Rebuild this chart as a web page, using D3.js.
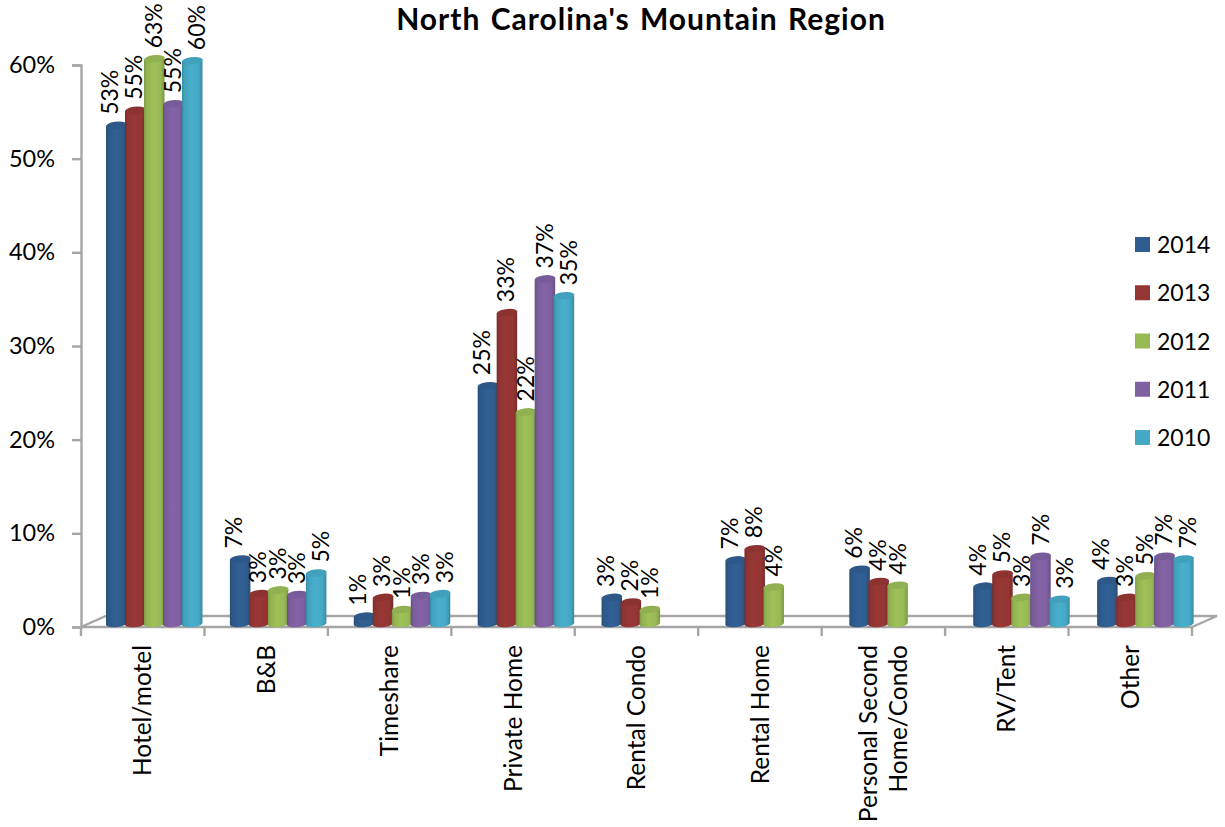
<!DOCTYPE html>
<html><head><meta charset="utf-8">
<script src="https://cdnjs.cloudflare.com/ajax/libs/d3/7.8.5/d3.min.js"></script>
<style>html,body{margin:0;padding:0;background:#fff}svg{display:block}text{font-family:Lato,"Open Sans",sans-serif;fill:#000}</style>
</head><body><div id="chart"></div>
<script>
const title = "North Carolina's Mountain Region";
const categories = ["Hotel/motel","B&B","Timeshare","Private Home","Rental Condo","Rental Home","Personal Second|Home/Condo","RV/Tent","Other"];
const years = ["2014","2013","2012","2011","2010"];
const colors = ["#2f5d8f","#943634","#98ba55","#7f60a1","#45a9c5"];
// drawn heights (%)
const h2014 = [53.4,7.1,1.0,25.6,3.0,7.0,6.0,4.2,4.8];
const h2013 = [55.0,3.4,3.0,33.4,2.5,8.2,4.7,5.5,3.0];
const h2012 = [60.5,3.8,1.7,22.8,1.7,4.1,4.3,3.0,5.3];
const h2011 = [55.7,3.3,3.2,37.0,null,null,null,7.4,7.4];
const h2010 = [60.3,5.6,3.4,35.2,null,null,null,2.8,7.1];
// printed labels
const l2014 = ["53%","7%","1%","25%","3%","7%","6%","4%","4%"];
const l2013 = ["55%","3%","3%","33%","2%","8%","4%","5%","3%"];
const l2012 = ["63%","3%","1%","22%","1%","4%","4%","3%","5%"];
const l2011 = ["55%","3%","3%","37%",null,null,null,"7%","7%"];
const l2010 = ["60%","5%","3%","35%",null,null,null,"3%","7%"];
const heights = [h2014,h2013,h2012,h2011,h2010];
const labels = [l2014,l2013,l2012,l2011,l2010];
const yTicks = [0,10,20,30,40,50,60];

const W=1225,H=827, gray="#a6a6a6";
const svg=d3.select("#chart").append("svg").attr("width",W).attr("height",H);
const y=d3.scaleLinear().domain([0,60]).range([627,65]);
const x0=d3.scaleBand().domain(categories).range([81,1192]);
const xBar=d3.scaleBand().domain(categories).range([106,1221]);
const depthX=25, depthY=11;
const x1=d3.scaleBand().domain(years).range([0,95]);
const defs=svg.append("defs");
colors.forEach((c,i)=>{
  const g=defs.append("linearGradient").attr("id","g"+i);
  const col=d3.color(c);
  [[0,col.darker(.55)],[.12,col.darker(.12)],[.45,col.brighter(.1)],[.8,col],[1,col.darker(.6)]].forEach(([o,k])=>
    g.append("stop").attr("offset",o).attr("stop-color",k.formatHex()));
});
// floor
const floor=svg.append("g").attr("fill","none").attr("stroke",gray).attr("stroke-width",2.4);
const [xl,xr]=x0.range(), yb=y(0);
floor.append("path").attr("d",`M${xl},${yb}L${xl+depthX},${yb-depthY}H${xr+depthX}L${xr},${yb}`);
floor.append("path").attr("d",`M${xl},${yb}H${xr}`);
// x ticks
floor.selectAll("line.t").data([null,...categories]).join("line")
  .attr("x1",(d)=>d===null?xl:x0(d)+x0.bandwidth()).attr("x2",(d)=>d===null?xl:x0(d)+x0.bandwidth())
  .attr("y1",yb).attr("y2",yb+9);
// y axis
const ax=svg.append("g").attr("transform",`translate(${xl},0)`)
  .call(d3.axisLeft(y).tickValues(yTicks).tickFormat(d=>d+"%").tickSize(9).tickPadding(17));
ax.selectAll("path,line").attr("stroke",gray).attr("stroke-width",2.4);
ax.selectAll("text").style("font-family","Lato,sans-serif").style("font-size","23.5px").attr("fill","#000");

// bars
const barW=x1.bandwidth()+1.5, rx=barW/2, ry=3.6, tilt=1.5;
const base=y(0)-2.5;
years.forEach((yr,s)=>{
  const g=svg.append("g");
  categories.forEach((c,i)=>{
    const v=heights[s][i]; if(v==null) return;
    const xa=xBar(c)+x1(yr), xb=xa+barW, top=y(v)-1.5;
    g.append("path").attr("fill",`url(#g${s})`)
      .attr("d",`M${xa},${top+tilt}L${xa},${base+tilt-1}A${rx},${ry} -6 0 0 ${xb},${base-tilt-1}L${xb},${top-tilt}Z`);
    g.append("path").attr("fill",d3.color(colors[s]).darker(.15).formatHex())
      .attr("d",`M${xa},${top+tilt}A${rx},${ry} -6 1 1 ${xb},${top-tilt}A${rx},${ry} -6 1 1 ${xa},${top+tilt}Z`);
  });
});
// data labels
const labelShift=d3.scaleOrdinal().domain(years).range([-6,-1,0,0,5]);
years.forEach((yr,s)=>{
  categories.forEach((c,i)=>{
    const t=labels[s][i]; if(t==null) return;
    const cx=xBar(c)+x1(yr)+barW/2+labelShift(yr), ty=y(heights[s][i])-12;
    svg.append("text").attr("transform",`translate(${cx},${ty}) rotate(-90)`)
      .attr("dy","0.35em").attr("font-size",23).text(t);
  });
});
// category labels
categories.forEach(c=>{
  const lines=c.split("|"), cx=x0(c)+x0.bandwidth()/2;
  lines.forEach((ln,k)=>{
    svg.append("text").attr("transform",`translate(${cx+(k-(lines.length-1)/2)*30},645) rotate(-90)`)
      .attr("text-anchor","end").attr("dy","0.35em").attr("font-size",24.5).text(ln);
  });
});
// legend
const ly=d3.scalePoint().domain(years).range([245,438]);
years.forEach((yr,s)=>{
  svg.append("rect").attr("x",1135).attr("y",ly(yr)-8).attr("width",15).attr("height",15).attr("fill",colors[s]);
  svg.append("text").attr("x",1157).attr("y",ly(yr)).attr("dy","0.35em").attr("font-size",23).text(yr);
});
svg.append("text").attr("x",641).attr("y",30).attr("text-anchor","middle")
  .attr("font-size",30).attr("font-weight",700).attr("letter-spacing",1).attr("word-spacing",2).text(title);
</script></body></html>
